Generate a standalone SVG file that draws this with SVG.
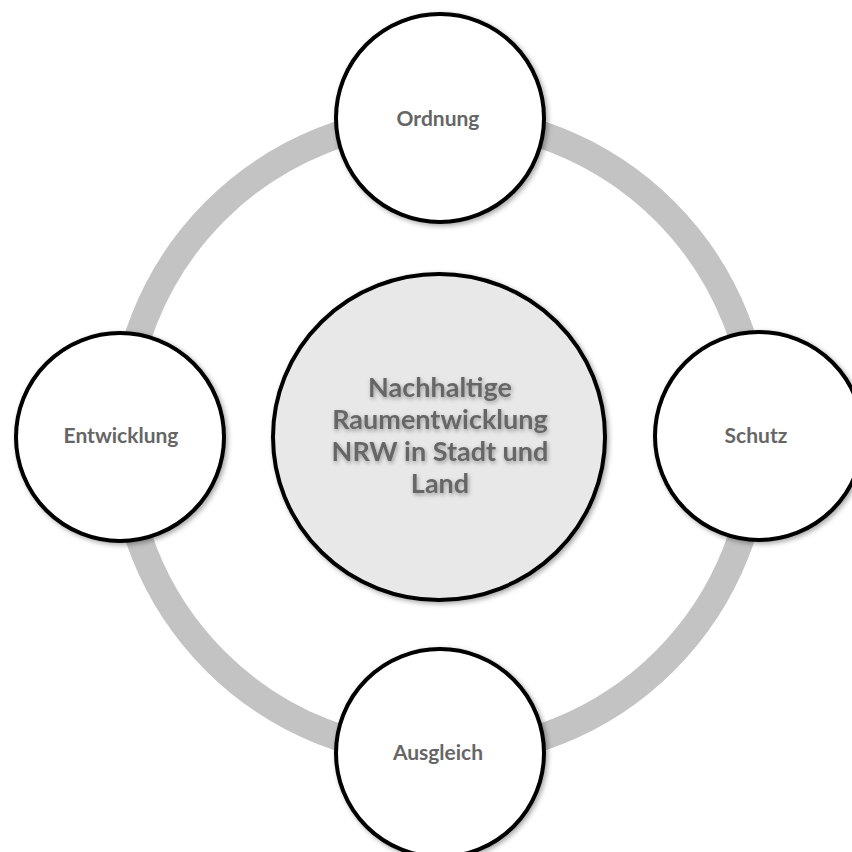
<svg xmlns="http://www.w3.org/2000/svg" width="852" height="852" viewBox="0 0 852 852">
  <defs>
    <filter id="shadow" x="-20%" y="-20%" width="140%" height="140%">
      <feDropShadow dx="2" dy="2" stdDeviation="2.5" flood-color="#000" flood-opacity="0.35"/>
    </filter>
    <filter id="textShadow" x="-10%" y="-30%" width="120%" height="160%">
      <feDropShadow dx="1" dy="2" stdDeviation="2" flood-color="#000" flood-opacity="0.35"/>
    </filter>
  </defs>
  <style>
    .ring { fill: none; stroke: #c3c3c3; stroke-width: 27; }
    .node { fill: #ffffff; stroke: #000000; stroke-width: 4; filter: url(#shadow); }
    .hub { fill: #e8e8e8; stroke: #000000; stroke-width: 4; filter: url(#shadow); }
    .label { font-family: Lato, "Liberation Sans", sans-serif; font-weight: bold; font-size: 21px; fill: #666666; text-anchor: middle; }
    .hubLabel { font-family: Lato, "Liberation Sans", sans-serif; font-weight: bold; font-size: 27px; fill: #666666; text-anchor: middle; filter: url(#textShadow); }
  </style>
  <rect width="852" height="852" fill="#ffffff"/>

  <!-- grey ring linking the four outer nodes -->
  <g id="connectors">
    <circle class="ring" cx="440" cy="436" r="318"/>
  </g>

  <g id="hub">
    <ellipse class="hub" cx="439" cy="437" rx="166" ry="163"/>
    <text class="hubLabel" x="440" y="397">Nachhaltige</text>
    <text class="hubLabel" x="440" y="429">Raumentwicklung</text>
    <text class="hubLabel" x="440" y="461">NRW in Stadt und</text>
    <text class="hubLabel" x="440" y="493">Land</text>
  </g>

  <g id="ordnung">
    <circle class="node" cx="440" cy="118" r="104"/>
    <text class="label" x="438" y="126">Ordnung</text>
  </g>

  <g id="schutz">
    <circle class="node" cx="759" cy="436" r="104"/>
    <text class="label" x="756" y="443">Schutz</text>
  </g>

  <g id="ausgleich">
    <circle class="node" cx="440" cy="753" r="104"/>
    <text class="label" x="438" y="760">Ausgleich</text>
  </g>

  <g id="entwicklung">
    <circle class="node" cx="120" cy="437" r="104"/>
    <text class="label" x="121" y="443">Entwicklung</text>
  </g>
</svg>
